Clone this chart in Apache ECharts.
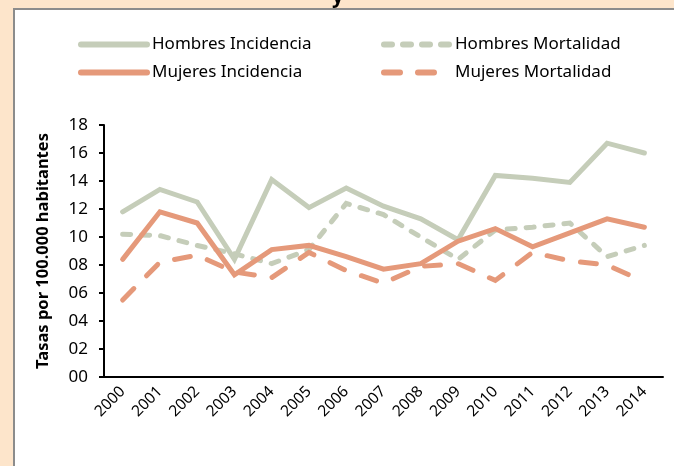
<!DOCTYPE html>
<html>
<head>
<meta charset="utf-8">
<script src="https://cdn.jsdelivr.net/npm/echarts@6/dist/echarts.min.js"></script>
<style>
  html, body { margin: 0; padding: 0; background: #fde5cb; }
  #chart { width: 674px; height: 466px; }
</style>
</head>
<body>
<div id="chart"></div>
<script>
// años
var years = ['2000', '2001', '2002', '2003', '2004', '2005', '2006', '2007',
  '2008', '2009', '2010', '2011', '2012', '2013', '2014'];

// tasas por 100.000 habitantes
var hombresIncidencia = [11.8, 13.4, 12.5, 8.4, 14.1, 12.1, 13.5, 12.2, 11.3, 9.8, 14.4, 14.2, 13.9, 16.7, 16.0];
var hombresMortalidad = [10.2, 10.1, 9.4, 8.8, 8.1, 9.1, 12.4, 11.6, 10.0, 8.4, 10.5, 10.7, 11.0, 8.6, 9.4];
var mujeresIncidencia = [8.4, 11.8, 11.0, 7.3, 9.1, 9.4, 8.6, 7.7, 8.1, 9.7, 10.6, 9.3, 10.3, 11.3, 10.7];
var mujeresMortalidad = [5.5, 8.2, 8.7, 7.5, 7.1, 8.9, 7.6, 6.7, 7.9, 8.1, 6.9, 8.9, 8.3, 8.0, 6.8];

var verde = '#c5cdb9';
var naranja = '#e5997a';
var fuente = 'Noto Sans';

var chart = echarts.init(document.getElementById('chart'));

function serie(nombre, datos, color, tipo) {
  return {
    name: nombre,
    type: 'line',
    data: datos,
    symbol: 'none',
    lineStyle: { color: color, width: 5, type: tipo, cap: 'round', join: 'miter' },
    itemStyle: { color: color }
  };
}

function leyenda(nombre, left, top) {
  return {
    data: [nombre],
    left: left,
    top: top,
    itemWidth: 66,
    itemHeight: 14,
    itemGap: 4,
    padding: 0,
    itemStyle: { opacity: 0 },
    lineStyle: { width: 6, cap: 'round' },
    textStyle: { fontFamily: fuente, fontSize: 17, color: '#000' }
  };
}

var option = {
  backgroundColor: '#fde5cb',
  animation: false,
  graphic: [
    {
      type: 'rect',
      shape: { x: 14, y: 9, width: 700, height: 500 },
      style: { fill: '#fff', stroke: '#8c8c8c', lineWidth: 2 },
      z: -10
    },
    {
      type: 'text',
      left: 332,
      top: -13,
      style: { text: 'y', fontFamily: fuente, fontSize: 20, fontWeight: 'bold', fill: '#000' },
      z: 10
    }
  ],
  legend: [
    leyenda('Hombres Incidencia', 78, 36),
    leyenda('Hombres Mortalidad', 381, 36),
    leyenda('Mujeres Incidencia', 78, 64),
    leyenda('Mujeres Mortalidad', 381, 64)
  ],
  grid: { left: 104, right: 11, top: 125, bottom: 89 },
  xAxis: {
    type: 'category',
    data: years,
    boundaryGap: true,
    axisLine: { lineStyle: { color: '#000', width: 2 } },
    axisTick: { show: false },
    axisLabel: {
      rotate: 45,
      margin: 12,
      fontFamily: fuente,
      fontSize: 15.5,
      color: '#000',
      interval: 0
    }
  },
  yAxis: {
    type: 'value',
    min: 0,
    max: 18,
    interval: 2,
    name: 'Tasas por 100.000 habitantes',
    nameLocation: 'middle',
    nameGap: 52,
    nameTextStyle: { fontFamily: fuente, fontSize: 16.5, fontWeight: 'bold', color: '#000' },
    axisLine: { show: true, lineStyle: { color: '#000', width: 2 } },
    axisTick: { show: true, length: 5, lineStyle: { color: '#000', width: 2 } },
    splitLine: { show: false },
    axisLabel: {
      margin: 16,
      fontFamily: fuente,
      fontSize: 17,
      color: '#000',
      formatter: function (v) { return (v < 10 ? '0' : '') + v; }
    }
  },
  series: [
    serie('Hombres Incidencia', hombresIncidencia, verde, 'solid'),
    serie('Hombres Mortalidad', hombresMortalidad, verde, [8, 11]),
    serie('Mujeres Incidencia', mujeresIncidencia, naranja, 'solid'),
    serie('Mujeres Mortalidad', mujeresMortalidad, naranja, [16, 18])
  ]
};

chart.setOption(option);
</script>
</body>
</html>
